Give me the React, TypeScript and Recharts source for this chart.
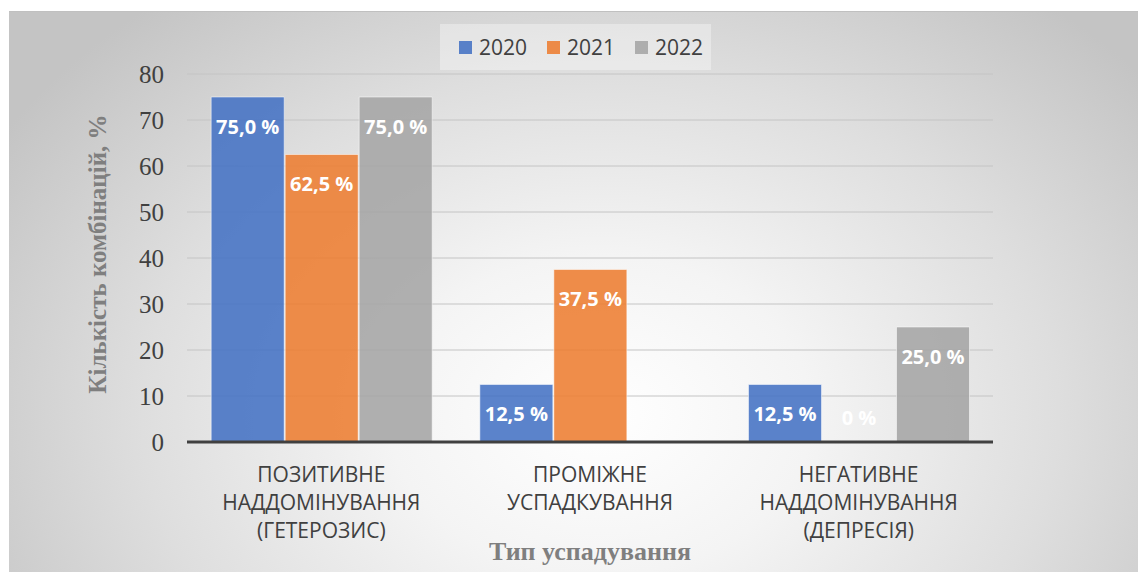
import React from "react";
import { BarChart, Bar, XAxis, YAxis, CartesianGrid, Legend, Label, Rectangle } from "recharts";

const categories = [
  "ПОЗИТИВНЕ\nНАДДОМІНУВАННЯ\n(ГЕТЕРОЗИС)",
  "ПРОМІЖНЕ\nУСПАДКУВАННЯ",
  "НЕГАТИВНЕ\nНАДДОМІНУВАННЯ\n(ДЕПРЕСІЯ)",
];
const values2020 = [75, 12.5, 12.5];
const values2021 = [62.5, 37.5, 0];
const values2022 = [75, 0, 25];
const labels2020 = ["75,0 %", "12,5 %", "12,5 %"];
const labels2021 = ["62,5 %", "37,5 %", "0 %"];
const labels2022 = ["75,0 %", "", "25,0 %"];
const yTicks = [0, 10, 20, 30, 40, 50, 60, 70, 80];
const seriesNames = ["2020", "2021", "2022"];
const seriesColors = ["#4472C4", "#ED7D31", "#A5A5A5"];
const yTitle = "Кількість комбінацій, %";
const xTitle = "Тип успадування";

const data = categories.map((c, i) => ({
  name: c,
  y2020: values2020[i],
  y2021: values2021[i],
  y2022: values2022[i],
}));

const sans = "'Open Sans', 'Noto Sans', sans-serif";
const serif = "'Liberation Serif', 'DejaVu Serif', serif";

const XTick = (props: any) => {
  const { x, y, payload } = props;
  const lines = String(payload.value).split("\n");
  return (
    <g>
      {lines.map((l, i) => (
        <text
          key={i}
          x={x}
          y={y + 32 + i * 28}
          textAnchor="middle"
          fontFamily={sans}
          fontSize={21}
          fill="#404040"
        >
          {l}
        </text>
      ))}
    </g>
  );
};

const catIndex = (p: any) => {
  const nm = p?.payload?.name;
  const i = categories.indexOf(nm);
  return i >= 0 ? i : p.index;
};

const labelText = (x: number, y: number, t: string) => (
  <text
    x={x}
    y={y}
    textAnchor="middle"
    dominantBaseline="central"
    fontFamily={sans}
    fontWeight={700}
    fontSize={20}
    fill="#ffffff"
  >
    {t}
  </text>
);

const makeShape = (labels: string[]) => (p: any) => {
  const i = catIndex(p);
  const t = labels[i];
  const { x, y, width, height } = p;
  return (
    <g>
      {height > 0 ? (
        <Rectangle x={x} y={y} width={width} height={height} fill={p.fill} fillOpacity={0.88} stroke="#ffffff" strokeOpacity={0.5} />
      ) : null}
      {t ? labelText(x + width / 2, height > 0 ? y + 29 : y - 25, t) : null}
    </g>
  );
};

const LegendBox = () => (
  <div
    style={{
      width: 271,
      height: 46,
      background: "rgba(255,255,255,0.35)",
      display: "flex",
      alignItems: "center",
      justifyContent: "flex-start",
      paddingLeft: 19,
      fontFamily: sans,
      fontSize: 21,
      color: "#404040",
      boxSizing: "border-box",
    }}
  >
    {seriesNames.map((n, i) => (
      <span key={n} style={{ display: "flex", alignItems: "center", marginRight: i < 2 ? 20 : 0 }}>
        <span
          style={{
            display: "inline-block",
            width: 13,
            height: 13,
            background: seriesColors[i],
            opacity: 0.88,
            marginRight: 7,
          }}
        />
        {n}
      </span>
    ))}
  </div>
);

export default function App() {
  return (
    <div
      style={{
        marginLeft: 1,
        marginTop: 3,
        width: 1137,
        height: 561,
        borderTop: "1px solid #c0c0c0",
        boxSizing: "border-box",
        background:
          "radial-gradient(ellipse 62% 95% at 52% 72%, #ffffff 0%, #f4f4f4 30%, #dedede 65%, #c4c4c4 100%)",
        position: "relative",
      }}
    >
      <BarChart
        width={1137}
        height={560}
        data={data}
        margin={{ top: 62, right: 153, left: 118, bottom: 0 }}
        barCategoryGap="9%"
        barGap={1}
      >
        <CartesianGrid vertical={false} stroke="#c4c4c4" strokeWidth={1} />
        <XAxis
          dataKey="name"
          tick={<XTick />}
          tickLine={false}
          axisLine={{ stroke: "#404040", strokeWidth: 3 }}
          height={130}
          interval={0}
        >
          <Label
            content={(p: any) => {
              const vb = p.viewBox;
              return (
                <text
                  x={vb.x + vb.width / 2}
                  y={vb.y + 118}
                  textAnchor="middle"
                  fontFamily={serif}
                  fontWeight={700}
                  fontSize={26}
                  fill="#7f7f7f"
                >
                  {xTitle}
                </text>
              );
            }}
          />
        </XAxis>
        <YAxis
          width={60}
          domain={[0, 80]}
          ticks={yTicks}
          tickLine={false}
          axisLine={false}
          tickSize={0}
          tickMargin={23}
          tick={{ fontFamily: serif, fontSize: 25, fill: "#404040" }}
        >
          <Label
            content={(p: any) => {
              const vb = p.viewBox;
              const cx = vb.x - 30;
              const cy = vb.y + vb.height / 2 - 4;
              return (
                <text
                  x={cx}
                  y={cy}
                  transform={`rotate(-90, ${cx}, ${cy})`}
                  textAnchor="middle"
                  dominantBaseline="central"
                  fontFamily={serif}
                  fontWeight={700}
                  fontSize={25}
                  fill="#7f7f7f"
                >
                  {yTitle}
                </text>
              );
            }}
          />
        </YAxis>
        <Legend
          layout="horizontal"
          verticalAlign="middle"
          align="center"
          content={() => <LegendBox />}
          wrapperStyle={{ position: "absolute", top: 12, left: 431, width: 271, height: 46 }}
        />
        <Bar dataKey="y2020" name="2020" fill={seriesColors[0]} shape={makeShape(labels2020)} isAnimationActive={false} />
        <Bar dataKey="y2021" name="2021" fill={seriesColors[1]} shape={makeShape(labels2021)} isAnimationActive={false} />
        <Bar dataKey="y2022" name="2022" fill={seriesColors[2]} shape={makeShape(labels2022)} isAnimationActive={false} />
      </BarChart>
    </div>
  );
}
